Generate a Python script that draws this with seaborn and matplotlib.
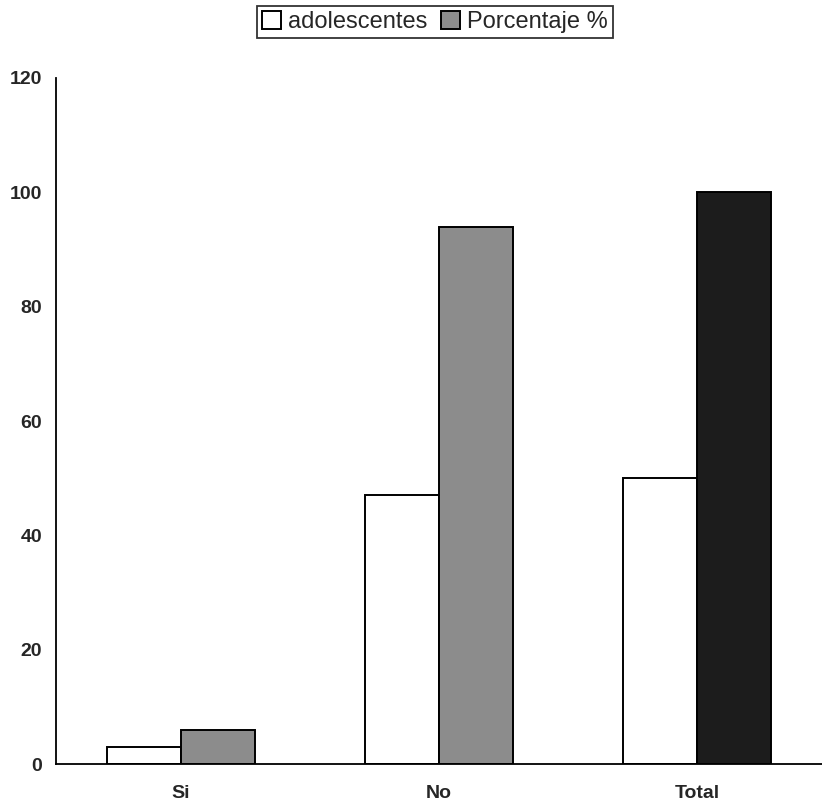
import matplotlib
matplotlib.use("Agg")
import matplotlib.pyplot as plt
import seaborn as sns
import pandas as pd
from matplotlib.ticker import FixedLocator
from matplotlib.patches import Patch

categories = ["Si", "No", "Total"]
adolescentes = [3, 47, 50]
porcentaje = [6, 94, 100]
series_names = ["adolescentes", "Porcentaje %"]
y_ticks = [0, 20, 40, 60, 80, 100, 120]

df = pd.DataFrame({
    "cat": categories * 2,
    "serie": [series_names[0]] * 3 + [series_names[1]] * 3,
    "valor": adolescentes + porcentaje,
})

sns.set_style("white")
plt.rcParams["font.family"] = ["Liberation Sans", "DejaVu Sans"]

fig = plt.figure(figsize=(8.22, 8.05), dpi=100)
ax = fig.add_axes([56 / 822, 41 / 805, 1 - 56 / 822, (764 - 78) / 805])

sns.barplot(data=df, x="cat", y="valor", hue="serie", order=categories,
            hue_order=series_names, palette=["white", "#8c8c8c"],
            width=0.574, edgecolor="black", linewidth=1.4, ax=ax,
            legend=False, errorbar=None)

# darker fill for the Total percentage bar
for cont, name in zip(ax.containers, series_names):
    if name == series_names[1]:
        cont.patches[2].set_facecolor("#1c1c1c")

ax.set_ylim(0, 120)
ax.set_xlim(-0.4845, 2.484)
ax.set_yticks(y_ticks)
ax.set_yticklabels([str(v) for v in y_ticks], fontsize=14, fontweight="bold")
ax.set_xticks(range(3))
ax.set_xticklabels(categories, fontsize=14, fontweight="bold")
ax.tick_params(axis="x", which="major", length=0, pad=15)
ax.xaxis.set_minor_locator(FixedLocator([0.5, 1.5]))
ax.tick_params(axis="x", which="minor", length=5, width=1, color="black", direction="out")
ax.tick_params(axis="y", length=5, width=1, color="black", direction="out", pad=5)
ax.set_xlabel("")
ax.set_ylabel("")
for s in ["top", "right"]:
    ax.spines[s].set_visible(False)
for s in ["left", "bottom"]:
    ax.spines[s].set_color("black")
    ax.spines[s].set_linewidth(1.3)

handles = [Patch(facecolor="white", edgecolor="black", linewidth=1.4),
           Patch(facecolor="#8c8c8c", edgecolor="black", linewidth=1.4)]
leg = fig.legend(handles, series_names, loc="center", bbox_to_anchor=(435 / 822, 1 - 22 / 805),
                 ncol=2, frameon=True, fancybox=False, fontsize=17,
                 handlelength=0.8, handleheight=0.8, handletextpad=0.3,
                 columnspacing=0.6, borderpad=0.2, borderaxespad=0)
leg.get_frame().set_edgecolor("black")
leg.get_frame().set_linewidth(1.3)

fig.savefig("out.png", dpi=100, facecolor="white")
